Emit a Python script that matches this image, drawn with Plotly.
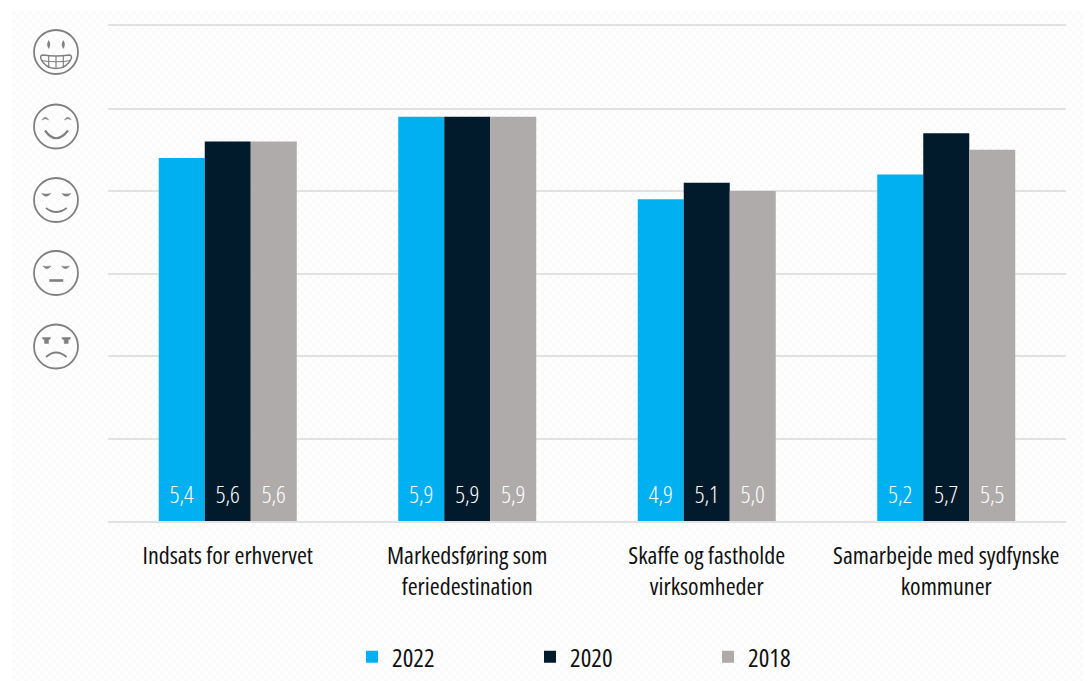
import base64
import plotly.graph_objects as go

categories = ["Indsats for erhvervet", "Markedsføring som<br>feriedestination",
              "Skaffe og fastholde<br>virksomheder", "Samarbejde med sydfynske<br>kommuner"]
series_names = ["2022", "2020", "2018"]
values_2022 = [5.4, 5.9, 4.9, 5.2]
values_2020 = [5.6, 5.9, 5.1, 5.7]
values_2018 = [5.6, 5.9, 5.0, 5.5]
colors = ["#00B0F0", "#021B2C", "#AFABAB"]
all_values = [values_2022, values_2020, values_2018]

FONT = "Open Sans"
OFF = 8  # page body margin
W, H = 1091 - OFF, 681 - OFF
PLOT_L, PLOT_R, PLOT_T, PLOT_B = 108, 1066, 26, 521
L, R, T, B = PLOT_L - OFF, 1091 - PLOT_R, PLOT_T - OFF, 681 - PLOT_B
PW, PH = PLOT_R - PLOT_L, PLOT_B - PLOT_T
BAR_W = 46 / (PW / 4)
LABEL_Y = 1.29

def px(x):
    return (x - PLOT_L) / PW

def py(y):
    return (PLOT_B - y) / PH

def P(x, y):
    return f"{px(x):.5f},{py(y):.5f}"

GRAY = "#808080"
GRID = "#E2E2E2"
shapes = []

def stroke(path, w=1.8):
    shapes.append(dict(type="path", xref="paper", yref="paper", path=path,
                       line=dict(color=GRAY, width=w), layer="above"))

def fill(path):
    shapes.append(dict(type="path", xref="paper", yref="paper", path=path,
                       fillcolor=GRAY, line=dict(color=GRAY, width=0.5), layer="above"))

def circle(cx, cy, r=22):
    stroke(f"M{P(cx - r, cy)} C{P(cx - r, cy - r * .552)} {P(cx - r * .552, cy - r)} {P(cx, cy - r)} "
           f"C{P(cx + r * .552, cy - r)} {P(cx + r, cy - r * .552)} {P(cx + r, cy)} "
           f"C{P(cx + r, cy + r * .552)} {P(cx + r * .552, cy + r)} {P(cx, cy + r)} "
           f"C{P(cx - r * .552, cy + r)} {P(cx - r, cy + r * .552)} {P(cx - r, cy)} Z")

def curve(x0, y0, cx, cy, x1, y1, w=1.8):
    stroke(f"M{P(x0, y0)} Q{P(cx, cy)} {P(x1, y1)}", w)

def crescent(x0, x1, y):
    m = (x0 + x1) / 2
    fill(f"M{P(x0, y - 1)} Q{P(m, y)} {P(x1, y - 1)} Q{P(m, y + 4.5)} {P(x0, y - 1)} Z")

CX = 56
# grin
circle(CX, 52)
for ex in (48.7, 63.3):
    fill(f"M{P(ex, 40.5)} Q{P(ex + 2.6, 44.5)} {P(ex, 48.5)} Q{P(ex - 2.6, 44.5)} {P(ex, 40.5)} Z")
stroke(f"M{P(43, 55)} Q{P(56, 57)} {P(69, 55)} Q{P(72, 55)} {P(71.3, 58.5)} "
       f"Q{P(67, 68.5)} {P(56, 68.5)} Q{P(45, 68.5)} {P(40.8, 58.5)} Q{P(40, 55)} {P(43, 55)} Z", 1.5)
for tx in (48.7, 56, 63.3):
    stroke(f"M{P(tx, 56)} L{P(tx, 68)}", 1.2)
stroke(f"M{P(41, 60.5)} Q{P(56, 63)} {P(71, 60.5)}", 1.2)
# happy
circle(CX, 126.5)
for ex in (45.3, 67.8):
    fill(f"M{P(ex - 3.4, 120)} Q{P(ex, 114.5)} {P(ex + 3.4, 120)} Q{P(ex, 117.5)} {P(ex - 3.4, 120)} Z")
curve(45, 130.5, 56, 146, 68, 130.5, 2.2)
# content
circle(CX, 200)
crescent(41.7, 50.7, 194.5)
crescent(61.7, 71, 194.5)
curve(46, 208, 56, 216, 66.7, 208)
# neutral
circle(CX, 273)
crescent(43, 51, 267)
crescent(61.5, 69.5, 267)
stroke(f"M{P(49.3, 280.5)} L{P(63.3, 280.5)}", 2.6)
# sad
circle(CX, 346.5)
for x0, x1 in ((42.3, 50.7), (61.7, 70.7)):
    m = (x0 + x1) / 2
    fill(f"M{P(x0, 337.5)} L{P(x1, 337.5)} L{P(x1 - 1, 339.5)} L{P(m + 2, 339.5)} L{P(m + 2, 343.5)} "
         f"L{P(m - 2, 343.5)} L{P(m - 2, 339.5)} L{P(x0 + 1, 339.5)} Z")
curve(46, 357, 56, 348, 66.7, 357)

# faint checkered page background
svg = ('<svg xmlns="http://www.w3.org/2000/svg" width="1079" height="670">'
       '<defs><pattern id="p" width="8" height="8" patternUnits="userSpaceOnUse">'
       '<rect width="8" height="8" fill="#FFFFFF"/>'
       '<rect width="4" height="4" fill="#FAFAFA"/><rect x="4" y="4" width="4" height="4" fill="#FAFAFA"/>'
       '</pattern></defs><rect width="1079" height="670" fill="url(#p)"/></svg>')
src = "data:image/svg+xml;base64," + base64.b64encode(svg.encode()).decode()

fig = go.Figure()
xs = list(range(len(categories)))
for i, (name, vals, col) in enumerate(zip(series_names, all_values, colors)):
    fig.add_bar(x=xs, y=vals, name=name, marker=dict(color=col, line=dict(width=0)),
                width=BAR_W, offset=(i - 1.5) * BAR_W, legendgroup=name)
for i, (name, vals) in enumerate(zip(series_names, all_values)):
    fig.add_scatter(x=[v + (i - 1) * BAR_W for v in xs], y=[LABEL_Y] * len(vals), mode="text",
                    text=[f"{v:.1f}".replace(".", ",") for v in vals],
                    textposition="middle center",
                    textfont=dict(color="white", size=24, family=FONT, weight=300),
                    showlegend=False, legendgroup=name, hoverinfo="skip")

fig.update_layout(
    width=W, height=H, autosize=False,
    margin=dict(l=L, r=R, t=T, b=B, autoexpand=False),
    paper_bgcolor="white", plot_bgcolor="rgba(0,0,0,0)",
    font=dict(family=FONT, color="#111111"),
    barmode="overlay", showlegend=True,
    legend=dict(orientation="h", x=px(352), xanchor="left", y=py(657), yanchor="middle",
                entrywidthmode="pixels", entrywidth=133,
                font=dict(size=25, color="#111111", family=FONT),
                bgcolor="rgba(0,0,0,0)", traceorder="normal"),
    shapes=shapes,
    images=[dict(source=src, xref="paper", yref="paper", x=px(12), y=py(11),
                 sizex=1079 / PW, sizey=670 / PH, sizing="stretch",
                 xanchor="left", yanchor="top", layer="below")],
)
fig.update_xaxes(range=[-0.5, 3.5], tickvals=xs, ticktext=categories, showgrid=False,
                 ticks="", zeroline=False, showline=True, linecolor=GRID, linewidth=2, mirror=True,
                 tickangle=0, automargin=False, ticklabeloverflow="allow",
                 tickfont=dict(size=24, color="#111111", family=FONT), ticklabelstandoff=12)
fig.update_yaxes(range=[1, 7], dtick=1, showticklabels=False, showgrid=True, automargin=False,
                 gridcolor=GRID, gridwidth=2, zeroline=False, ticks="", showline=False)
condense = "document.querySelectorAll('.main-svg text').forEach(function(t){t.style.fontStretch='75%';});"
fig.write_html("out.html", config=dict(displayModeBar=False), post_script=condense)
